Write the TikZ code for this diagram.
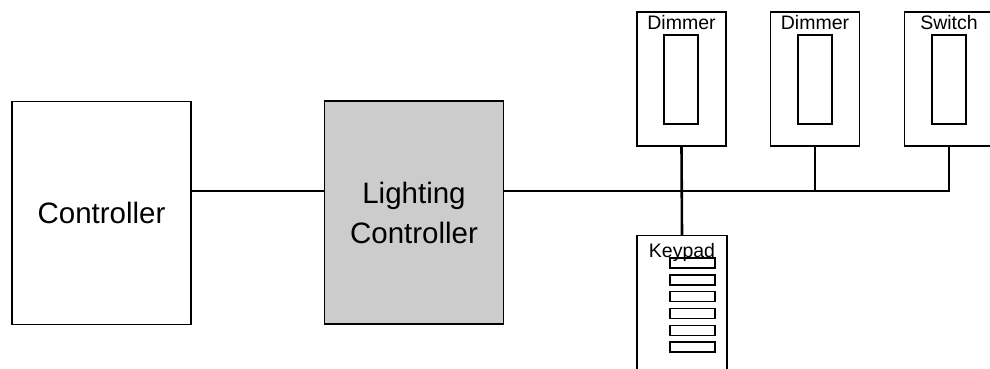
\documentclass[tikz,border=0pt]{standalone}
\usepackage{fontspec}
\setmainfont{Liberation Sans}
\begin{document}
\begin{tikzpicture}[
  x=1pt,y=-1pt,
  every node/.style={inner sep=0pt},
  unit/.style={draw,line width=1.4pt,minimum width=179pt,minimum height=223pt,align=center,font=\fontsize{29.5}{40}\selectfont},
  plate/.style={draw,line width=1.4pt,minimum width=89pt,minimum height=134pt},
  rocker/.style={draw,line width=1.4pt,minimum width=34pt,minimum height=89pt},
  button/.style={draw,line width=1.4pt,minimum width=45pt,minimum height=10pt},
  tag/.style={anchor=base,font=\fontsize{19.5}{22}\selectfont},
  wire/.style={draw,line width=2.6pt}
]
  \useasboundingbox (0,0) rectangle (990,368);
  \clip (0,0) rectangle (990,368);
  \coordinate (bus) at (0,191);
  \node[unit] (ctrl) at (101.5,213) {Controller};
  \node[unit,fill=black!20] (lc) at (414,212.5) {Lighting\\Controller};
  \node[plate] (dim1) at (681.5,79) {};
  \node[rocker] (rk1) at (681,79.5) {};
  \node[tag] at (681.5,29) {Dimmer};
  \node[plate] (dim2) at (815,79) {};
  \node[rocker] (rk2) at (815,79.5) {};
  \node[tag] at (815,29) {Dimmer};
  \node[plate] (sw) at (949,79) {};
  \node[rocker] (rk3) at (949,79.5) {};
  \node[tag] at (949,29) {Switch};
  \node[draw,line width=1.4pt,minimum width=90pt,minimum height=160pt,anchor=north] (kp) at (682,235) {};
  \foreach \i in {0,...,5}
    \node[button] (key\i) at (692.5,263+16.8*\i) {};
  \node[tag] at (682,257) {Keypad};
  \draw[wire] (ctrl.east |- bus) -- (lc.west |- bus);
  \draw[wire] (lc.east |- bus) -- (sw.south |- bus) -- (sw.south);
  \draw[wire] (dim2.south) -- (dim2.south |- bus);
  \draw[wire] (dim1.south) -- (kp.north);
\end{tikzpicture}
\end{document}
